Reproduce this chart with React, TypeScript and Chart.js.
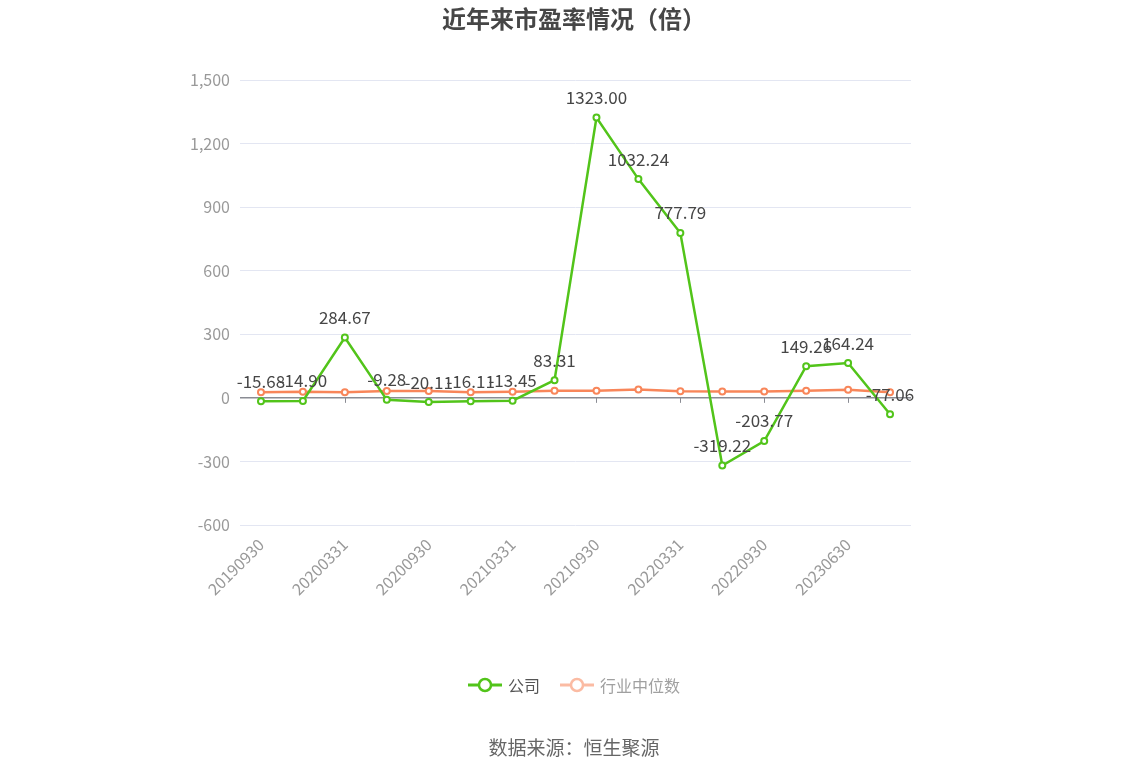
import { useEffect, useRef } from 'react';
import { Chart, registerables } from 'chart.js';

Chart.register(...registerables);

// report dates (every other one is labelled)
const categories = [
  '20190930', '20191231', '20200331', '20200630', '20200930', '20201231',
  '20210331', '20210630', '20210930', '20211231', '20220331', '20220630',
  '20220930', '20221231', '20230630', '20230930',
];
const companyPE = [
  -15.68, -14.9, 284.67, -9.28, -20.11, -16.11, -13.45, 83.31,
  1323.0, 1032.24, 777.79, -319.22, -203.77, 149.26, 164.24, -77.06,
];
const industryPE = [26, 29, 26, 32, 32, 26, 29, 34, 34, 39, 31, 30, 30, 33, 38, 27];

const FONT = "'Noto Sans CJK SC', 'Noto Sans', sans-serif";
const GREEN = '#52C41A';
const ORANGE = '#F8865A';

// value labels over the company line
const valueLabels = {
  id: 'valueLabels',
  afterDatasetsDraw(chart: any) {
    const { ctx } = chart;
    const meta = chart.getDatasetMeta(0);
    ctx.save();
    ctx.font = `17px ${FONT}`;
    ctx.fillStyle = '#464646';
    ctx.textAlign = 'center';
    ctx.textBaseline = 'middle';
    meta.data.forEach((pt: any, i: number) => {
      ctx.fillText(companyPE[i].toFixed(2), pt.x, pt.y - 20);
    });
    ctx.restore();
  },
};

// short ticks under the zero line at labelled categories
const zeroTicks = {
  id: 'zeroTicks',
  beforeDatasetsDraw(chart: any) {
    const { ctx, scales } = chart;
    const y0 = scales.y.getPixelForValue(0);
    ctx.save();
    ctx.strokeStyle = '#8a8c94';
    ctx.lineWidth = 1;
    categories.forEach((_, i) => {
      if (i % 2 !== 0) return;
      const x = Math.round(scales.x.getPixelForValue(i)) + 0.5;
      ctx.beginPath();
      ctx.moveTo(x, y0);
      ctx.lineTo(x, y0 + 5);
      ctx.stroke();
    });
    ctx.restore();
  },
};

const PEChart = () => {
  const canvasRef = useRef<HTMLCanvasElement | null>(null);

  useEffect(() => {
    if (!canvasRef.current) return;
    const chart = new Chart(canvasRef.current, {
      type: 'line',
      data: {
        labels: categories,
        datasets: [
          {
            label: '公司',
            data: companyPE,
            borderColor: GREEN,
            backgroundColor: '#fff',
            borderWidth: 2.5,
            pointRadius: 3,
            pointBorderWidth: 2,
            pointBackgroundColor: '#fff',
            pointBorderColor: GREEN,
            tension: 0,
          },
          {
            label: '行业中位数',
            data: industryPE,
            borderColor: ORANGE,
            backgroundColor: '#fff',
            borderWidth: 2.5,
            pointRadius: 3,
            pointBorderWidth: 2,
            pointBackgroundColor: '#fff',
            pointBorderColor: ORANGE,
            tension: 0,
          },
        ],
      },
      options: {
        animation: false,
        responsive: false,
        layout: { padding: { top: 80, right: 237, bottom: 0, left: 0 } },
        plugins: {
          legend: { display: false },
          title: { display: false },
          tooltip: { enabled: false },
        },
        scales: {
          x: {
            offset: true,
            grid: { display: false },
            border: { display: false },
            afterFit: (scale: any) => {
              scale.height = 251;
            },
            ticks: {
              autoSkip: false,
              maxRotation: 45,
              minRotation: 45,
              color: '#999',
              padding: 2,
              font: { size: 16, family: FONT },
              callback: (_v: any, i: number) => (i % 2 === 0 ? categories[i] : ''),
            },
          },
          y: {
            min: -600,
            max: 1500,
            afterFit: (scale: any) => {
              scale.width = 240;
            },
            border: { display: false },
            grid: {
              drawTicks: false,
              color: (c: any) => (c.tick && c.tick.value === 0 ? '#8a8c94' : '#E3E6F2'),
              lineWidth: (c: any) => (c.tick && c.tick.value === 0 ? 1.5 : 1),
            },
            ticks: {
              stepSize: 300,
              color: '#999',
              padding: 10,
              font: { size: 16, family: FONT },
              callback: (v: any) => Number(v).toLocaleString('en-US'),
            },
          },
        },
      },
      plugins: [zeroTicks, valueLabels],
    } as any);
    return () => chart.destroy();
  }, []);

  return <canvas ref={canvasRef} width={1148} height={776} style={{ position: 'absolute', left: 0, top: 0 }} />;
};

const LegendMark = ({ color }: { color: string }) => (
  <svg width={34} height={16} style={{ marginRight: 6 }}>
    <line x1={0} y1={8} x2={34} y2={8} stroke={color} strokeWidth={3} />
    <circle cx={17} cy={8} r={6} fill="#fff" stroke={color} strokeWidth={2.5} />
  </svg>
);

export default function App() {
  return (
    <div
      style={{
        position: 'fixed',
        left: 0,
        top: 0,
        width: 1148,
        height: 776,
        background: '#fff',
        fontFamily: FONT,
        overflow: 'hidden',
      }}
    >
      <PEChart />
      <div
        style={{
          position: 'absolute',
          top: 0,
          width: '100%',
          textAlign: 'center',
          fontSize: 24,
          fontWeight: 'bold',
          color: '#464646',
        }}
      >
        近年来市盈率情况（倍）
      </div>
      <div
        style={{
          position: 'absolute',
          top: 673,
          width: '100%',
          display: 'flex',
          justifyContent: 'center',
          alignItems: 'center',
          fontSize: 16,
        }}
      >
        <LegendMark color={GREEN} />
        <span style={{ color: '#555', marginRight: 20 }}>公司</span>
        <LegendMark color="#FBBBA3" />
        <span style={{ color: '#a0a0a0' }}>行业中位数</span>
      </div>
      <div
        style={{
          position: 'absolute',
          top: 733,
          width: '100%',
          textAlign: 'center',
          fontSize: 19,
          color: '#666',
        }}
      >
        数据来源：恒生聚源
      </div>
    </div>
  );
}
